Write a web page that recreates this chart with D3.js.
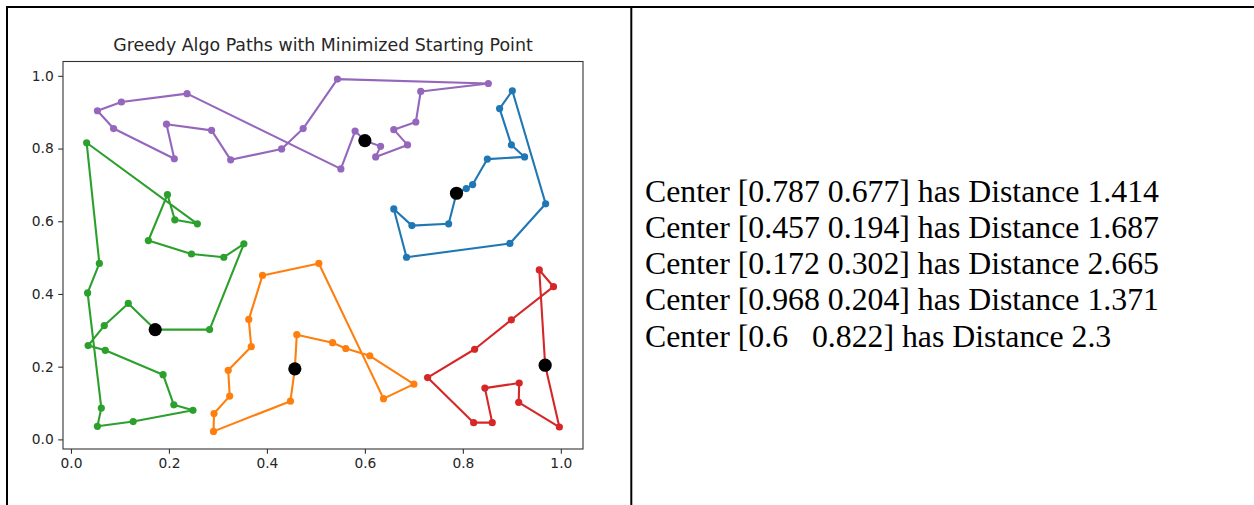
<!DOCTYPE html>
<html>
<head>
<meta charset="utf-8">
<script src="https://cdn.jsdelivr.net/npm/d3@7"></script>
<style>
  html, body { margin: 0; padding: 0; background: #fff; }
  svg { display: block; }
  .note { font-family: "Liberation Serif", "Times New Roman", serif; white-space: pre; }
</style>
</head>
<body>
<svg id="chart" width="1254" height="505"></svg>
<script>
// Cluster centres (k-means) used as the start of each greedy tour
const centers = [
  [0.787, 0.677],
  [0.457, 0.194],
  [0.172, 0.302],
  [0.968, 0.204],
  [0.6, 0.822]
];
const distances = [1.414, 1.687, 2.665, 1.371, 2.3];
const colors = ["#1f77b4", "#ff7f0e", "#2ca02c", "#d62728", "#9467bd"];

// Tour stops for each cluster, in visiting order (starting after the centre)
const blueTour = [
  [0.807, 0.690], [0.820, 0.701], [0.850, 0.771], [0.926, 0.777], [0.899, 0.810],
  [0.875, 0.910], [0.901, 0.959], [0.969, 0.648], [0.896, 0.539], [0.685, 0.501],
  [0.659, 0.634], [0.696, 0.588], [0.771, 0.593]
];
const orangeTour = [
  [0.461, 0.288], [0.534, 0.266], [0.561, 0.250], [0.610, 0.230], [0.700, 0.152],
  [0.638, 0.112], [0.506, 0.484], [0.391, 0.451], [0.363, 0.330], [0.368, 0.255],
  [0.321, 0.190], [0.324, 0.119], [0.292, 0.071], [0.291, 0.022], [0.448, 0.105]
];
const greenTour = [
  [0.283, 0.302], [0.353, 0.538], [0.312, 0.501], [0.246, 0.510], [0.158, 0.547],
  [0.197, 0.673], [0.212, 0.604], [0.258, 0.593], [0.032, 0.816], [0.058, 0.484],
  [0.034, 0.403], [0.062, 0.086], [0.054, 0.036], [0.127, 0.049], [0.249, 0.080],
  [0.210, 0.095], [0.188, 0.178], [0.070, 0.245], [0.035, 0.258], [0.068, 0.313],
  [0.117, 0.374]
];
const redTour = [
  [0.997, 0.034], [0.914, 0.102], [0.915, 0.155], [0.845, 0.141], [0.860, 0.046],
  [0.822, 0.046], [0.728, 0.170], [0.824, 0.248], [0.899, 0.329], [0.985, 0.420],
  [0.956, 0.466]
];
const purpleTour = [
  [0.632, 0.806], [0.622, 0.777], [0.687, 0.810], [0.659, 0.852], [0.704, 0.873],
  [0.714, 0.957], [0.852, 0.979], [0.544, 0.991], [0.474, 0.855], [0.430, 0.799],
  [0.326, 0.769], [0.287, 0.850], [0.195, 0.867], [0.211, 0.772], [0.087, 0.855],
  [0.054, 0.904], [0.103, 0.928], [0.237, 0.951], [0.551, 0.744], [0.580, 0.848]
];
const tours = [blueTour, orangeTour, greenTour, redTour, purpleTour];

const xTicks = [0.0, 0.2, 0.4, 0.6, 0.8, 1.0];
const yTicks = [0.0, 0.2, 0.4, 0.6, 0.8, 1.0];
const title = "Greedy Algo Paths with Minimized Starting Point";

const svg = d3.select("#chart");

// Table frame around the figure and the text cell
const frame = svg.append("g").attr("stroke", "#000").attr("stroke-width", 2);
frame.append("line").attr("x1", 6).attr("x2", 1254).attr("y1", 7).attr("y2", 7);
frame.append("line").attr("x1", 7).attr("x2", 7).attr("y1", 6).attr("y2", 505);
frame.append("line").attr("x1", 631.3).attr("x2", 631.3).attr("y1", 6).attr("y2", 505);

// Plot box
const box = { left: 63, right: 583, top: 61.5, bottom: 449 };

// Full closed paths: centre -> stops -> centre
const paths = tours.map((t, i) => [centers[i], ...t, centers[i]]);
const allPts = paths.flat();
const pad = (ext) => { const r = ext[1] - ext[0]; return [ext[0] - 0.05 * r, ext[1] + 0.05 * r]; };
const x = d3.scaleLinear().domain(pad(d3.extent(allPts, d => d[0]))).range([box.left, box.right]);
const y = d3.scaleLinear().domain(pad(d3.extent(allPts, d => d[1]))).range([box.bottom, box.top]);

const tickFont = "DejaVu Sans, sans-serif";

// Axes
const xAxis = svg.append("g")
  .attr("transform", `translate(0,${box.bottom})`)
  .call(d3.axisBottom(x).tickValues(xTicks).tickFormat(d3.format(".1f")).tickSize(4.8).tickPadding(4.5));
const yAxis = svg.append("g")
  .attr("transform", `translate(${box.left},0)`)
  .call(d3.axisLeft(y).tickValues(yTicks).tickFormat(d3.format(".1f")).tickSize(4.8).tickPadding(4.5));
[xAxis, yAxis].forEach(g => {
  g.select(".domain").remove();
  g.selectAll(".tick line").attr("stroke", "#333").attr("stroke-width", 1.1);
  g.selectAll(".tick text").attr("fill", "#262626")
    .style("font-family", tickFont).style("font-size", "13.8px");
});

svg.append("rect")
  .attr("x", box.left).attr("y", box.top)
  .attr("width", box.right - box.left).attr("height", box.bottom - box.top)
  .attr("fill", "none").attr("stroke", "#333").attr("stroke-width", 1.1);

// Title
svg.append("text")
  .attr("x", (box.left + box.right) / 2).attr("y", 51)
  .attr("text-anchor", "middle")
  .style("font-family", tickFont).style("font-size", "17.4px").attr("fill", "#262626")
  .text(title);

// Tour lines with markers
const line = d3.line().x(d => x(d[0])).y(d => y(d[1]));
paths.forEach((p, i) => {
  const g = svg.append("g");
  g.append("path").attr("d", line(p))
    .attr("fill", "none").attr("stroke", colors[i]).attr("stroke-width", 2.1)
    .attr("stroke-linejoin", "round").attr("stroke-linecap", "square");
  g.selectAll("circle").data(p).join("circle")
    .attr("cx", d => x(d[0])).attr("cy", d => y(d[1]))
    .attr("r", 3.6).attr("fill", colors[i]);
});

// Centres on top
svg.append("g").selectAll("circle").data(centers).join("circle")
  .attr("cx", d => x(d[0])).attr("cy", d => y(d[1]))
  .attr("r", 6.6).attr("fill", "#000");

// Numpy-style array formatting for the centre coordinates
function fmtArray(arr) {
  const s = arr.map(v => String(+v.toFixed(3)));
  const w = d3.max(s, t => t.length);
  return "[" + s.map(t => t.padEnd(w, " ")).join(" ") + "]";
}

const note = svg.append("g");
centers.forEach((c, i) => {
  note.append("text")
    .attr("class", "note")
    .attr("xml:space", "preserve")
    .attr("x", 645).attr("y", 201.5 + i * 36.25)
    .style("font-size", "31.8px").attr("fill", "#000")
    .text(`Center ${fmtArray(c)} has Distance ${distances[i]}`);
});
</script>
</body>
</html>
